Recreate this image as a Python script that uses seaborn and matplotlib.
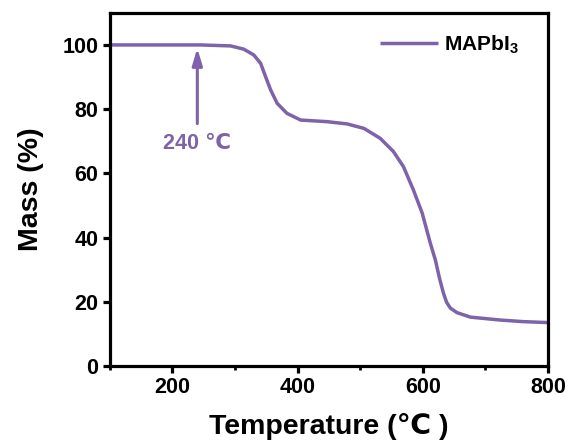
import numpy as np
import matplotlib
matplotlib.use("Agg")
import matplotlib.pyplot as plt
import seaborn as sns
import pandas as pd
from matplotlib.ticker import MultipleLocator

temperature = [100, 200, 245, 293, 314, 330, 341, 349, 357, 367.5, 383, 405, 447, 479, 506, 532,
               553, 569, 585, 599, 612, 620, 627, 633, 638, 644, 654.5, 676, 723, 760, 800]
mass = [100, 100, 100, 99.7, 98.7, 96.9, 94.3, 90.1, 86.0, 81.8, 78.7, 76.6, 76.1, 75.4, 74.0, 70.9,
        66.8, 62.1, 54.8, 47.6, 38.2, 33.0, 27.0, 22.6, 19.8, 18.0, 16.6, 15.2, 14.3, 13.8, 13.5]
series_name = r"MAPbI$_{\mathbf{3}}$"
annot_temp = 240
annot_text = "240 \u2103"
x_label = "Temperature (\u2103 )"
y_label = "Mass (%)"

sns.set_style("ticks", {"text.color": "black", "xtick.color": "black", "ytick.color": "black",
                        "axes.labelcolor": "black", "axes.edgecolor": "black"})
plt.rcParams['font.family'] = ['Liberation Sans', 'DejaVu Sans']
plt.rcParams['mathtext.fontset'] = 'custom'
plt.rcParams['mathtext.rm'] = 'Liberation Sans:bold'
plt.rcParams['mathtext.bf'] = 'Liberation Sans:bold'

color = "#7E62AA"
df = pd.DataFrame({"T": temperature, "M": mass})

fig = plt.figure(figsize=(5.68, 4.43), dpi=100)
ax = fig.add_axes([0.193, 0.174, 0.772, 0.797])
sns.lineplot(data=df, x="T", y="M", ax=ax, color=color, linewidth=2.5, label=series_name)
for ln in ax.lines:
    ln.set_solid_joinstyle("round")
    ln.set_solid_capstyle("butt")

ax.set_xlim(100, 800)
ax.set_ylim(0, 110)
ax.xaxis.set_major_locator(MultipleLocator(200))
ax.xaxis.set_minor_locator(MultipleLocator(100))
ax.yaxis.set_major_locator(MultipleLocator(20))

for s in ax.spines.values():
    s.set_linewidth(2.3)
    s.set_color("black")
ax.tick_params(axis="both", which="major", direction="out", length=5, width=2.3, labelsize=15.5, pad=3)
ax.tick_params(axis="x", which="minor", direction="out", length=3, width=2.0)
for lab in ax.get_xticklabels() + ax.get_yticklabels():
    lab.set_fontweight("bold")

ax.set_xlabel(x_label, fontsize=20.5, fontweight="bold", labelpad=11)
ax.set_ylabel(y_label, fontsize=20.5, fontweight="bold", labelpad=13)

ax.annotate("", xy=(annot_temp, 99.0), xytext=(annot_temp, 75.5),
            arrowprops=dict(arrowstyle="-|>,head_length=1.0,head_width=0.3", color=color, lw=2.2,
                            shrinkA=0, shrinkB=0))
ax.text(annot_temp, 69.3, annot_text, color=color, fontsize=15.5, fontweight="bold", ha="center", va="center")

leg = ax.legend(loc="upper right", bbox_to_anchor=(0.952, 0.966), borderaxespad=0, frameon=False,
                fontsize=15, handlelength=2.75, handletextpad=0.3)
for t in leg.get_texts():
    t.set_fontweight("bold")

fig.savefig("out.png", dpi=100)
